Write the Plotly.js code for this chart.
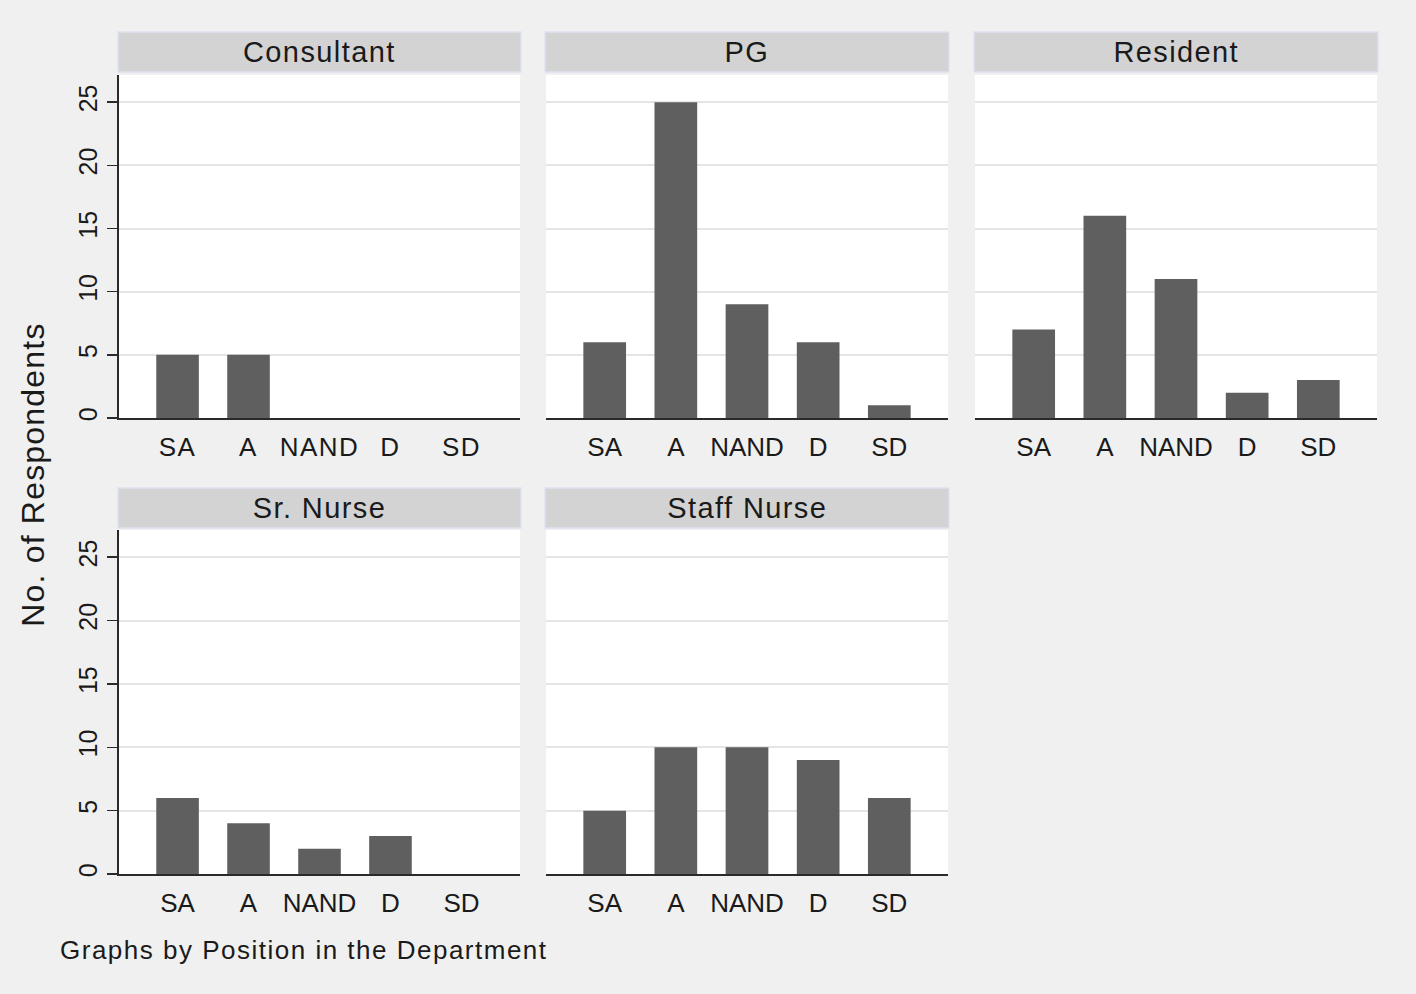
<!DOCTYPE html>
<html>
<head>
<meta charset="utf-8">
<script src="https://cdn.plot.ly/plotly-3.0.1.min.js"></script>
<style>
html,body{margin:0;padding:0;background:#f0f0f0;}
#chart{width:1416px;height:994px;}
#chart .xtick text{letter-spacing:1.5px;}
#chart g.annotation[data-index="0"] text,
#chart g.annotation[data-index="1"] text,
#chart g.annotation[data-index="2"] text,
#chart g.annotation[data-index="3"] text,
#chart g.annotation[data-index="4"] text{letter-spacing:1.4px;}
#chart g.annotation[data-index="5"] text{letter-spacing:1.2px;}
#chart g.annotation[data-index="6"] text{letter-spacing:1.5px;}
</style>
</head>
<body>
<div id="chart"></div>
<script>
// Data
const categories = ["SA", "A", "NAND", "D", "SD"];
const panels = ["Consultant", "PG", "Resident", "Sr. Nurse", "Staff Nurse"];
const consultant = [5, 5, 0, 0, 0];
const pg = [6, 25, 9, 6, 1];
const resident = [7, 16, 11, 2, 3];
const srNurse = [6, 4, 2, 3, 0];
const staffNurse = [5, 10, 10, 9, 6];
const yTicks = [0, 5, 10, 15, 20, 25];
const yTitle = "No. of Respondents";
const note = "Graphs by Position in the Department";

const seriesList = [consultant, pg, resident, srNurse, staffNurse];

const W = 1416, H = 994;
const FONT = "Liberation Sans, Arial, sans-serif";
// pixel boxes of panels
const colX = [[119, 520], [546, 948], [975, 1377]];
const rowY = [[75, 418], [530, 874]];
const stripY = [[32, 72], [488, 528]];
const pos = [[0,0],[1,0],[2,0],[0,1],[1,1]];

const traces = [];
const layout = {
  width: W, height: H,
  margin: {l: 0, r: 0, t: 0, b: 0},
  paper_bgcolor: "#f0f0f0",
  plot_bgcolor: "#ffffff",
  showlegend: false,
  font: {family: FONT, color: "#1a1a1a"},
  shapes: [],
  annotations: [],
  bargap: 0.4
};

seriesList.forEach((vals, i) => {
  const k = i === 0 ? "" : String(i + 1);
  const [c, r] = pos[i];
  traces.push({
    type: "bar",
    x: categories,
    y: vals,
    xaxis: "x" + k,
    yaxis: "y" + k,
    width: 0.6,
    marker: {color: "#5f5f5f", line: {width: 0}},
    hoverinfo: "x+y"
  });
  const xd = [colX[c][0] / W, colX[c][1] / W];
  const yd = [1 - rowY[r][1] / H, 1 - rowY[r][0] / H];
  const leftCol = c === 0;
  layout["xaxis" + k] = {
    domain: xd,
    anchor: "y" + k,
    type: "category",
    range: [-0.825, 4.825],
    showline: true,
    linecolor: "#2a2a2a",
    linewidth: 2,
    ticks: "",
    ticklabelstandoff: 5,
    showgrid: false,
    zeroline: false,
    tickfont: {family: FONT, size: 26, color: "#1a1a1a"},
    fixedrange: true
  };
  layout["yaxis" + k] = {
    domain: yd,
    anchor: "x" + k,
    range: [0, 27.15],
    tickvals: yTicks,
    showticklabels: leftCol,
    ticks: leftCol ? "outside" : "",
    ticklen: 10,
    tickwidth: 1.5,
    tickcolor: "#2a2a2a",
    tickangle: -90,
    tickfont: {family: FONT, size: 25, color: "#1a1a1a"},
    showline: leftCol,
    linecolor: "#2a2a2a",
    linewidth: 2,
    showgrid: true,
    gridcolor: "#e5e5e5",
    gridwidth: 2,
    zeroline: false,
    fixedrange: true
  };
  const sy = [1 - stripY[r][1] / H, 1 - stripY[r][0] / H];
  layout.shapes.push({
    type: "rect", xref: "paper", yref: "paper",
    x0: (colX[c][0] - 1) / W, x1: (colX[c][1] + 1) / W, y0: sy[0], y1: sy[1],
    fillcolor: "#d3d3d3", line: {color: "#dce2ef", width: 1.5}, layer: "below"
  });
  layout.annotations.push({
    xref: "paper", yref: "paper",
    x: (colX[c][0] + colX[c][1]) / 2 / W,
    y: (sy[0] + sy[1]) / 2,
    xanchor: "center", yanchor: "middle",
    text: panels[i], showarrow: false,
    font: {family: FONT, size: 29, color: "#1a1a1a"}
  });
});

layout.annotations.push({
  xref: "paper", yref: "paper",
  x: 33 / W, y: 1 - 475 / H,
  xanchor: "center", yanchor: "middle",
  text: yTitle, textangle: -90, showarrow: false,
  font: {family: FONT, size: 32, color: "#1a1a1a"}
});
layout.annotations.push({
  xref: "paper", yref: "paper",
  x: 304 / W, y: 1 - 950 / H,
  xanchor: "center", yanchor: "middle",
  text: note, showarrow: false,
  font: {family: FONT, size: 26, color: "#1a1a1a"}
});

Plotly.newPlot("chart", traces, layout, {displayModeBar: false, staticPlot: true});
</script>
</body>
</html>
